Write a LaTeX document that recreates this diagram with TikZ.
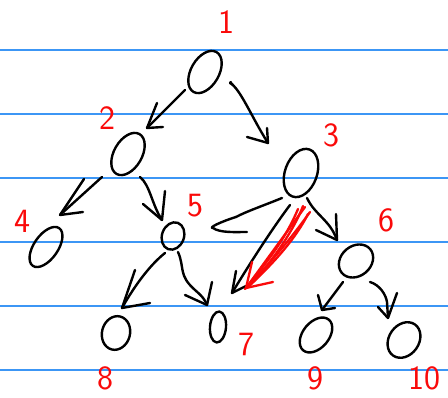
\documentclass[tikz,border=0pt]{standalone}
\usetikzlibrary{shapes.geometric}
\definecolor{ruled}{RGB}{60,150,245}
\definecolor{ink}{RGB}{0,0,0}
\definecolor{pen}{RGB}{250,10,10}
\begin{document}
\begin{tikzpicture}[x=1pt,y=-1pt,
  ovl/.style={ellipse,draw=ink,line width=2.4pt,inner sep=0pt},
  lbl/.style={text=pen,font=\sffamily\fontsize{34}{34}\selectfont,inner sep=0pt},
  stroke/.style={draw=ink,line width=2.4pt,line cap=round,line join=round},
  redstroke/.style={draw=pen,line width=2.3pt,line cap=round,line join=round},
  rule/.style={draw=ruled,line width=1.6pt}]
\useasboundingbox[fill=white] (0,0) rectangle (448,398);
% ruled lines
\foreach \yy [count=\i] in {50,114,178,242,306,370}{
  \coordinate (rl\i) at (0,\yy); \coordinate (rr\i) at (448,\yy);
  \draw[rule] (rl\i) -- (rr\i);}
% nodes
\node[ovl,minimum width=28pt,minimum height=46pt,rotate=-30] (n1) at (205,72) {};
\node[ovl,minimum width=28pt,minimum height=46pt,rotate=-30] (n2) at (128,154) {};
\node[ovl,minimum width=32pt,minimum height=50pt,rotate=-20] (n3) at (301,173) {};
\node[ovl,minimum width=24pt,minimum height=46pt,rotate=-35] (n4) at (46,247) {};
\node[ovl,minimum width=22pt,minimum height=28pt,rotate=-20] (n5) at (173,236) {};
\node[ovl,minimum width=30pt,minimum height=37pt,rotate=-50] (n6) at (356,261) {};
\node[ovl,minimum width=16pt,minimum height=31pt,rotate=-5] (n7) at (218,327) {};
\node[ovl,minimum width=28pt,minimum height=34pt,rotate=-15] (n8) at (116,333) {};
\node[ovl,minimum width=26pt,minimum height=40pt,rotate=-40] (n9) at (316,335) {};
\node[ovl,minimum width=30pt,minimum height=38pt,rotate=-35] (n10) at (404,340) {};
% labels
\node[lbl] (l1) at (226,22) {1};
\node[lbl] (l2) at (107,118) {2};
\node[lbl] (l3) at (331,135) {3};
\node[lbl] (l4) at (22,221) {4};
\node[lbl] (l5) at (195,206) {5};
\node[lbl] (l6) at (386,220) {6};
\node[lbl] (l7) at (246,344) {7};
\node[lbl] (l8) at (105,378) {8};
\node[lbl] (l9) at (315,378) {9};
\node[lbl] (l10) at (424,378) {10};
% arrow coordinates
\coordinate (s12) at (185,90);  \coordinate (t12) at (147,128);
\coordinate (s13) at (230,83);  \coordinate (t13) at (268,143);
\coordinate (s24) at (102,177); \coordinate (t24) at (60,215);
\coordinate (s25) at (140,177); \coordinate (t25) at (162,220);
\coordinate (s35) at (282,198); \coordinate (t35) at (213,228);
\coordinate (s37) at (290,205); \coordinate (t37) at (232,293);
\coordinate (s36) at (307,198); \coordinate (t36) at (337,240);
\coordinate (s58) at (165,253); \coordinate (t58) at (122,308);
\coordinate (s57) at (178,252); \coordinate (t57) at (207,305);
\coordinate (s69) at (343,282); \coordinate (t69) at (322,310);
\coordinate (s610) at (370,282); \coordinate (t610) at (388,318);
\coordinate (sr) at (305,207); \coordinate (tr) at (246,288);
% black arrows
\draw[stroke] (s12) -- (t12); \draw[stroke] (t12) -- (157,103); \draw[stroke] (t12) -- (163,127);
\draw[stroke] (233,85) .. controls (229,82) and (232,81) .. (s13);
\draw[stroke] (s13) .. controls (240,88) and (252,118) .. (t13);
\draw[stroke] (t13) -- (267,128); \draw[stroke] (t13) -- (247,137);
\draw[stroke] (s24) -- (t24); \draw[stroke] (t24) -- (84,179); \draw[stroke] (t24) -- (83,212);
\draw[stroke] (s25) .. controls (150,185) and (152,205) .. (t25);
\draw[stroke] (t25) -- (165,191); \draw[stroke] (t25) -- (143,204);
\draw[stroke] (s35) .. controls (265,205) and (245,212) .. (236,217);
\draw[stroke] (236,217) .. controls (220,222) and (208,228) .. (t35) .. controls (220,233) and (235,232) .. (247,232);
\draw[stroke] (s37) .. controls (275,225) and (255,255) .. (t37);
\draw[stroke] (t37) -- (236,271); \draw[stroke] (t37) -- (246,286);
\draw[stroke] (s36) .. controls (315,215) and (330,220) .. (t36);
\draw[stroke] (t36) -- (336,214); \draw[stroke] (t36) -- (316,230);
\draw[stroke] (s58) .. controls (150,265) and (135,285) .. (t58);
\draw[stroke] (t58) -- (135,270); \draw[stroke] (t58) -- (150,303);
\draw[stroke] (s57) .. controls (185,268) and (178,275) .. (195,290) .. controls (203,297) and (205,300) .. (t57);
\draw[stroke] (t57) -- (212,282); \draw[stroke] (t57) -- (185,295);
\draw[stroke] (s69) -- (t69); \draw[stroke] (t69) -- (318,295); \draw[stroke] (t69) -- (335,308);
\draw[stroke] (s610) .. controls (380,285) and (386,295) .. (387,302) -- (t610);
\draw[stroke] (t610) -- (397,293); \draw[stroke] (t610) -- (378,307);
% red arrow (scribbled)
\draw[redstroke] (sr) -- (tr);
\draw[redstroke] (298,209) .. controls (285,240) and (265,265) .. (245,289);
\draw[redstroke] (310,212) .. controls (290,240) and (268,265) .. (248,287);
\draw[redstroke] (303,206) .. controls (294,230) and (272,262) .. (250,285);
\draw[redstroke] (308,214) .. controls (296,238) and (275,262) .. (247,288);
\draw[redstroke] (tr) -- (252,262);
\draw[redstroke] (tr) -- (273,282);
\end{tikzpicture}
\end{document}
